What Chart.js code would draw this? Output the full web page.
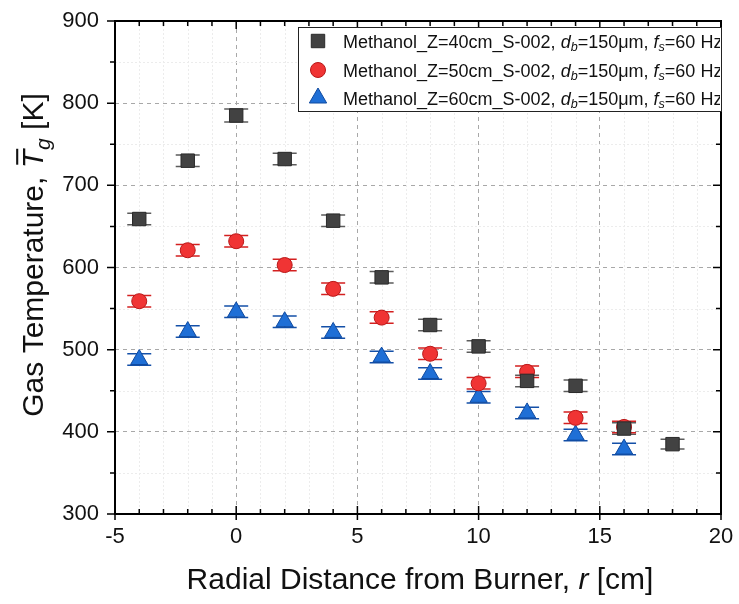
<!DOCTYPE html>
<html>
<head>
<meta charset="utf-8">
<script src="https://cdn.jsdelivr.net/npm/chart.js@4.4.4/dist/chart.umd.min.js"></script>
<style>
  html, body { margin: 0; padding: 0; background: #fff; }
  canvas { display: block; }
</style>
</head>
<body>
<canvas id="chart" width="739" height="604"></canvas>
<script>
// ── Data ───────────────────────────────────────────────────────────────────
const rZ40 = [-4, -2, 0, 2, 4, 6, 8, 10, 12, 14, 16, 18];
const tZ40 = [659, 730, 785, 732, 657, 588, 530, 504, 462, 456, 404, 385];
const eZ40 = [7, 7, 8, 7, 7, 7, 7, 7, 7, 7, 7, 6];

const rZ50 = [-4, -2, 0, 2, 4, 6, 8, 10, 12, 14, 16];
const tZ50 = [559, 621, 632, 603, 574, 539, 495, 459, 473, 417, 406];
const eZ50 = [7, 7, 7, 7, 7, 7, 7, 7, 7, 7, 7];

const rZ60 = [-4, -2, 0, 2, 4, 6, 8, 10, 12, 14, 16];
const tZ60 = [488, 522, 546, 534, 521, 491, 471, 442, 423, 396, 379];
const eZ60 = [7, 7, 7, 7, 7, 7, 7, 7, 7, 7, 7];

const xTicks = [-5, 0, 5, 10, 15, 20];
const yTicks = [300, 400, 500, 600, 700, 800, 900];

const FONT = "'Liberation Sans', Arial, sans-serif";

const GRAY_FILL = '#424242';
const RED_FILL  = '#f03434', RED_LINE  = '#d42020';
const BLUE_FILL = '#1f6fd6', BLUE_LINE = '#1450a8';

const points = (xs, ys) => xs.map((x, i) => ({ x, y: ys[i] }));

const seriesMeta = [
  { label: 'Methanol_Z=40cm_S-002', err: eZ40, bar: '#5c5c5c' },
  { label: 'Methanol_Z=50cm_S-002', err: eZ50, bar: RED_LINE },
  { label: 'Methanol_Z=60cm_S-002', err: eZ60, bar: BLUE_LINE },
];

// ── Helpers ────────────────────────────────────────────────────────────────

// rich text: segments {t, it, sub, over}
function drawRich(ctx, segs, x, y, size, align = 'left') {
  const fontOf = s => `${s.it ? 'italic ' : ''}${s.sub ? size * 0.7 : size}px ${FONT}`;
  let total = 0;
  for (const s of segs) { ctx.font = fontOf(s); total += ctx.measureText(s.t).width; }
  let cx = align === 'center' ? x - total / 2 : x;
  ctx.textBaseline = 'alphabetic';
  ctx.textAlign = 'left';
  for (const s of segs) {
    ctx.font = fontOf(s);
    const w = ctx.measureText(s.t).width;
    ctx.fillText(s.t, cx, s.sub ? y + size * 0.22 : y);
    if (s.over) {
      ctx.save();
      ctx.lineWidth = size * 0.07;
      ctx.beginPath();
      ctx.moveTo(cx + size * 0.12, y - size * 0.86);
      ctx.lineTo(cx + w + size * 0.04, y - size * 0.86);
      ctx.stroke();
      ctx.restore();
    }
    cx += w;
  }
}

// ── Plugins ────────────────────────────────────────────────────────────────

const minorGrid = {
  id: 'minorGrid',
  beforeDatasetsDraw(chart) {
    const { ctx, chartArea: a, scales: { x, y } } = chart;
    ctx.save();
    ctx.strokeStyle = '#ececec';
    ctx.lineWidth = 1;
    ctx.setLineDash([2, 2]);
    for (let v = -4; v < 20; v++) {
      if (v % 5 === 0) continue;
      const px = Math.round(x.getPixelForValue(v)) + 0.5;
      ctx.beginPath(); ctx.moveTo(px, a.top); ctx.lineTo(px, a.bottom); ctx.stroke();
    }
    for (let v = 350; v < 900; v += 100) {
      const py = Math.round(y.getPixelForValue(v)) + 0.5;
      ctx.beginPath(); ctx.moveTo(a.left, py); ctx.lineTo(a.right, py); ctx.stroke();
    }
    ctx.restore();
  },
};

const errorBars = {
  id: 'errorBars',
  beforeDatasetsDraw(chart) {
    const { ctx, scales: { y } } = chart;
    ctx.save();
    ctx.lineWidth = 1.5;
    chart.data.datasets.forEach((ds, di) => {
      const meta = chart.getDatasetMeta(di);
      const err = seriesMeta[di].err;
      ctx.strokeStyle = seriesMeta[di].bar;
      meta.data.forEach((pt, i) => {
        const v = ds.data[i].y;
        const top = y.getPixelForValue(v + err[i]);
        const bot = y.getPixelForValue(v - err[i]);
        ctx.beginPath();
        ctx.moveTo(pt.x, top); ctx.lineTo(pt.x, bot);
        ctx.moveTo(pt.x - 12, top); ctx.lineTo(pt.x + 12, top);
        ctx.moveTo(pt.x - 12, bot); ctx.lineTo(pt.x + 12, bot);
        ctx.stroke();
      });
    });
    ctx.restore();
  },
};

const frame = {
  id: 'frame',
  afterDatasetsDraw(chart) {
    const { ctx, chartArea: a, scales: { x, y } } = chart;
    ctx.save();
    ctx.strokeStyle = '#000';
    ctx.lineWidth = 1.5;
    // ticks
    ctx.beginPath();
    for (let v = -5; v <= 20; v++) {
      const px = x.getPixelForValue(v);
      const major = v % 5 === 0;
      const L = major ? 8 : 5;
      ctx.moveTo(px, a.bottom + (major ? 6 : 0)); ctx.lineTo(px, a.bottom - L);
      ctx.moveTo(px, a.top); ctx.lineTo(px, a.top + L);
    }
    for (let v = 300; v <= 900; v += 50) {
      const py = y.getPixelForValue(v);
      const major = v % 100 === 0;
      const L = major ? 8 : 5;
      ctx.moveTo(a.left - L, py); ctx.lineTo(a.left, py);
      ctx.moveTo(a.right, py); ctx.lineTo(a.right - L, py);
    }
    ctx.stroke();
    ctx.lineWidth = 2;
    ctx.strokeRect(a.left, a.top, a.right - a.left, a.bottom - a.top);

    // legend
    const bx = 298, by = 27, bw = a.right - 298, bh = 84;
    ctx.fillStyle = '#fff';
    ctx.fillRect(bx, by, bw, bh);
    ctx.lineWidth = 1;
    ctx.strokeStyle = '#222';
    ctx.strokeRect(bx + 0.5, by + 0.5, bw, bh);
    ctx.save();
    ctx.beginPath(); ctx.rect(bx, by, bw - 1, bh); ctx.clip();
    const rows = [41, 70, 98];
    chart.data.datasets.forEach((ds, di) => {
      ctx.fillStyle = ds.backgroundColor;
      ctx.strokeStyle = ds.borderColor;
      ctx.lineWidth = 1;
      Chart.helpers.drawPoint(ctx, {
        pointStyle: ds.pointStyle, radius: ds.pointRadius, rotation: 0, borderWidth: 1,
      }, 318, rows[di]);
      ctx.fillStyle = '#111';
      drawRich(ctx, [
        { t: seriesMeta[di].label + ', ' },
        { t: 'd', it: true }, { t: 'b', it: true, sub: true },
        { t: '=150\u03bcm, ' },
        { t: 'f', it: true }, { t: 's', it: true, sub: true },
        { t: '=60 Hz' },
      ], 343, rows[di] + 6.5, 18);
    });
    ctx.restore();
    ctx.restore();
  },
  afterDraw(chart) {
    const { ctx } = chart;
    ctx.save();
    ctx.fillStyle = '#111';
    drawRich(ctx, [
      { t: 'Radial Distance from Burner, ' }, { t: 'r', it: true }, { t: ' [cm]' },
    ], 420, 589, 30, 'center');
    ctx.translate(43, 255);
    ctx.rotate(-Math.PI / 2);
    ctx.strokeStyle = '#111';
    drawRich(ctx, [
      { t: 'Gas Temperature, ' }, { t: 'T', it: true, over: true },
      { t: 'g', it: true, sub: true }, { t: ' [K]' },
    ], 0, 0, 30, 'center');
    ctx.restore();
  },
};

// ── Chart ──────────────────────────────────────────────────────────────────

new Chart(document.getElementById('chart'), {
  type: 'scatter',
  data: {
    datasets: [
      { label: seriesMeta[0].label, data: points(rZ40, tZ40), pointStyle: 'rect', pointRadius: 9.5,
        backgroundColor: GRAY_FILL, borderColor: '#2a2a2a', borderWidth: 1 },
      { label: seriesMeta[1].label, data: points(rZ50, tZ50), pointStyle: 'circle', pointRadius: 7.5,
        backgroundColor: RED_FILL, borderColor: '#b81818', borderWidth: 1 },
      { label: seriesMeta[2].label, data: points(rZ60, tZ60), pointStyle: 'triangle', pointRadius: 10,
        backgroundColor: BLUE_FILL, borderColor: '#0f4aa0', borderWidth: 1 },
    ],
  },
  options: {
    responsive: false,
    devicePixelRatio: 1,
    animation: false,
    layout: { padding: { top: 21, right: 18, left: 0, bottom: 0 } },
    plugins: { legend: { display: false }, tooltip: { enabled: false } },
    scales: {
      x: {
        type: 'linear', min: -5, max: 20,
        afterBuildTicks: s => { s.ticks = xTicks.map(value => ({ value })); },
        afterFit: s => { s.height = 90; s.paddingLeft = 0; s.paddingRight = 0; },
        ticks: { color: '#111', font: { family: FONT, size: 22 }, padding: 10 },
        grid: { color: '#a8a8a8', lineWidth: 1, drawTicks: false },
        border: { display: false, dash: [4, 4] },
      },
      y: {
        type: 'linear', min: 300, max: 900,
        afterBuildTicks: s => { s.ticks = yTicks.map(value => ({ value })); },
        afterFit: s => { s.width = 115; s.paddingTop = 0; s.paddingBottom = 0; },
        ticks: { color: '#111', font: { family: FONT, size: 22 }, padding: 16 },
        grid: { color: '#a8a8a8', lineWidth: 1, drawTicks: false },
        border: { display: false, dash: [4, 4] },
      },
    },
  },
  plugins: [minorGrid, errorBars, frame],
});
</script>
</body>
</html>
